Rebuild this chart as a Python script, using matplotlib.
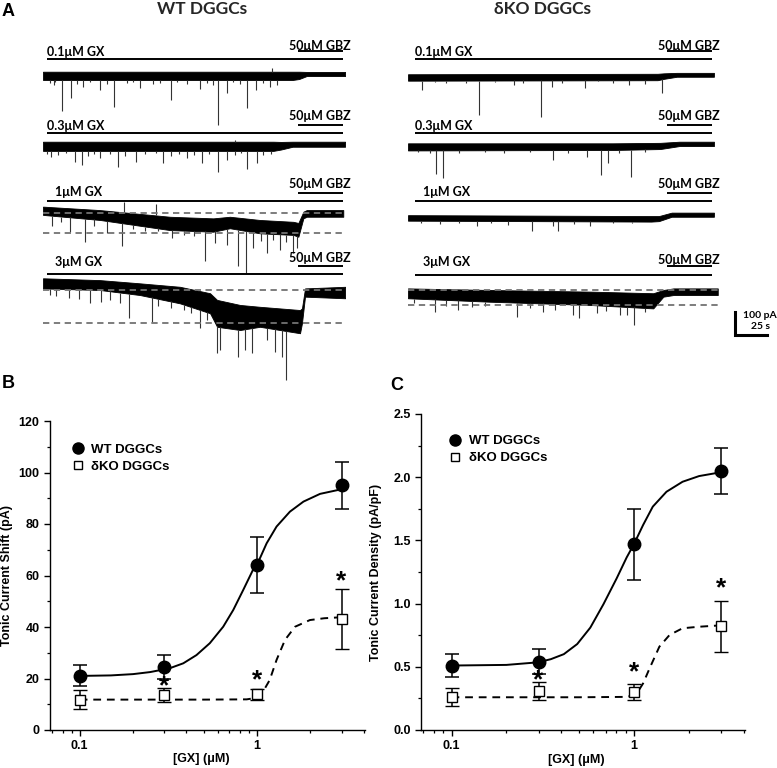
import numpy as np
import matplotlib.pyplot as plt
from matplotlib.lines import Line2D
from matplotlib.transforms import offset_copy

# ---------------- dose-response data (panels B, C) ----------------
conc = [0.1, 0.3, 1, 3]

wt_shift = [21.1, 24.6, 64.0, 95.0]
wt_shift_err = [4.2, 4.6, 10.8, 9.2]
ko_shift = [11.8, 13.6, 13.8, 43.2]
ko_shift_err = [3.6, 2.9, 2.3, 11.7]

wt_dens = [0.51, 0.54, 1.47, 2.05]
wt_dens_err = [0.09, 0.10, 0.28, 0.18]
ko_dens = [0.26, 0.31, 0.30, 0.82]
ko_dens_err = [0.07, 0.07, 0.06, 0.20]

# fitted curves
wt_shift_fit_x = [0.1, 0.15, 0.2, 0.25, 0.3225, 0.384, 0.456, 0.542, 0.645, 0.735, 0.837, 0.953, 1.0,
                  1.134, 1.29, 1.535, 1.83, 2.27, 3.0]
wt_shift_fit_y = [21.0, 21.2, 21.7, 22.5, 24.0, 25.9, 29.1, 33.7, 40.1, 46.6, 54.4, 62.4, 64.1,
                  72.5, 79.0, 84.8, 88.7, 91.7, 93.5]
ko_shift_fit_x = [0.1, 0.5, 0.875, 1.0, 1.08, 1.18, 1.29, 1.44, 1.64, 1.99, 2.4, 3.0]
ko_shift_fit_y = [11.8, 11.8, 11.9, 12.5, 14.8, 19.4, 27.2, 35.0, 40.1, 42.7, 43.4, 43.8]
wt_dens_fit_x = [0.1, 0.2, 0.296, 0.35, 0.413, 0.489, 0.577, 0.681, 0.805, 0.913, 1.0, 1.124, 1.27,
                 1.51, 1.85, 2.28, 3.0]
wt_dens_fit_y = [0.51, 0.515, 0.535, 0.56, 0.60, 0.68, 0.81, 0.995, 1.20, 1.365, 1.469, 1.622, 1.767,
                 1.885, 1.964, 2.009, 2.039]
ko_dens_fit_x = [0.1, 0.5, 0.913, 1.0, 1.06, 1.124, 1.22, 1.38, 1.57, 1.85, 2.28, 3.0]
ko_dens_fit_y = [0.259, 0.259, 0.262, 0.275, 0.31, 0.369, 0.488, 0.659, 0.752, 0.805, 0.817, 0.828]

star_x = [0.3, 1, 3]
shift_star_y = [18.8, 21.4, 59.8]
dens_star_y = [0.435, 0.496, 1.16]

# ---------------- traces (panel A): time in s, current in pA ----------------
# noise band envelope + spontaneous events
wt01_t = [0, 195, 200, 206, 236]
wt01_hi = [10, 10, 10, 9, 9]
wt01_lo = [-26, -26, -22, -9, -9]
wt01_spk_t = [8.6, 14.8, 21.9, 31.3, 44.5, 55.5, 75.8, 100, 122.7, 136.7, 143.8, 159.4, 166.4, 177.3, 182.8,
              5.5, 9.4, 26.3, 36.7, 49.7, 65.4, 70.6, 86.2, 91.4, 104.4, 112.3, 127.9, 133, 148.7, 153.9, 172.1]
wt01_spk_i = [-48, -161, -104, -57, -70, -143, -61, -113, -65, -222, -83, -148, -70, -57, -48,
              -38, -35, -42, -36, -44, -40, -35, -45, -38, -35, -42, -40, -48, -36, -44, -40]
wt01_up_t = [178.9]
wt01_up_i = [26]

wt03_t = [0, 180, 186, 195, 236]
wt03_hi = [10, 10, 9, 10, 10]
wt03_lo = [-30, -30, -24, -12, -12]
wt03_spk_t = [136.7, 159.4, 58.6, 30.5, 6.3, 25, 72.7, 93.8, 124.2, 167.2, 143.8, 112.5, 44.5,
              3, 12, 18, 35, 40, 52, 64, 80, 88, 100, 106, 118, 130, 150, 155, 172, 178]
wt03_spk_i = [-122, -109, -100, -91, -57, -78, -78, -83, -83, -83, -70, -61, -61,
              -42, -48, -40, -50, -45, -42, -52, -45, -40, -50, -44, -48, -42, -46, -40, -48, -42]
wt03_up_t = [150]
wt03_up_i = [18]

wt1_t = [0, 44.5, 99.2, 133, 146, 169.5, 195.6, 199.5, 203.4, 206, 234.6]
wt1_hi = [29, 14, -15, -22, -15, -29, -37, -42, 7, 14, 14]
wt1_lo = [-7, -29, -73, -80, -65, -87, -94, -102, -22, -15, -15]
wt1_spk_t = [7, 21, 32.8, 50, 61.7, 100.8, 126.6, 134.4, 143.8, 152.3, 158.6, 164, 175, 185, 195.3, 198.4,
             14, 40, 70, 80, 90, 110, 118, 170, 180, 190]
wt1_spk_i = [-55, -81, -123, -86, -142, -107, -207, -129, -138, -228, -260, -151, -173, -160, -173, -151,
             -40, -55, -70, -75, -78, -95, -100, -120, -115, -125]
wt1_up_t = [63.3, 88.3]
wt1_up_i = [50, 40]

wt3_t = [0, 44.5, 75.8, 107, 130.5, 136, 154, 169.5, 200.8, 202.3, 204.7, 236]
wt3_hi = [51, 43, 29, 14, -14, -43, -65, -73, -87, -80, 7, 14]
wt3_lo = [7, 0, -22, -58, -101, -160, -174, -160, -188, -145, -29, -36]
wt3_spk_t = [36.7, 67.4, 84.9, 122.7, 135.7, 138.3, 152.6, 157.8, 163, 174.8, 181.3, 186.5, 189.8,
             5.5, 10, 20, 28, 45, 52, 60, 90, 100, 110, 116, 128]
wt3_spk_i = [-58, -123, -138, -167, -275, -261, -290, -261, -275, -217, -268, -290, -391,
             -22, -25, -35, -40, -50, -45, -55, -70, -80, -85, -100, -130]

ko01_t = [0, 195, 200, 210, 239]
ko01_hi = [2, 4, 6, 8, 8]
ko01_lo = [-26, -24, -18, -9, -9]
ko01_spk_t = [11.2, 21.1, 55.7, 82.8, 103.7, 112.3, 138.3, 148.7, 172.9, 198.2, 30, 45, 68, 90, 120, 160, 185]
ko01_spk_i = [-65, -33, -174, -43, -184, -53, -58, -29, -43, -80, -35, -38, -33, -36, -35, -38, -40]

ko03_t = [0, 160, 197, 212, 239]
ko03_hi = [3, 3, 5, 10, 10]
ko03_lo = [-28, -26, -22, -9, -9]
ko03_spk_t = [17.2, 21.6, 27.6, 113.5, 139.6, 150.8, 156, 174, 8, 40, 60, 75, 95, 125, 165, 185]
ko03_spk_i = [-41, -130, -149, -69, -57, -134, -83, -144, -35, -38, -35, -40, -35, -38, -40, -35]

ko1_t = [0, 100, 190, 196, 206, 239]
ko1_hi = [-2, -4, -6, -6, 9, 9]
ko1_lo = [-26, -28, -30, -28, -9, -9]
ko1_spk_t = [54.2, 78.4, 96.6, 113.5, 117.4, 142.2, 10, 25, 40, 65, 130, 160, 175]
ko1_spk_i = [-51, -43, -73, -51, -73, -51, -38, -40, -36, -38, -40, -36, -38]

ko3_t = [0, 64, 142, 191.6, 199.5, 207.3, 242]
ko3_hi = [7, 0, -7, -14, 0, 7, 7]
ko3_lo = [-36, -51, -65, -80, -29, -22, -22]
ko3_spk_t = [21.1, 39.3, 84.9, 105.7, 129.1, 133.8, 147.4, 165.6, 170.9, 176.8, 5, 30, 50, 60, 95, 115, 155, 185]
ko3_spk_i = [-94, -87, -116, -94, -109, -123, -101, -109, -109, -152, -55, -70, -75, -70, -80, -85, -90, -95]

# dashed reference levels (pA)
wt1_levels = [0, -87]
wt3_levels = [0, -145]
ko3_levels = [0, -65]

# ---------------- figure ----------------
SANS = ['Liberation Sans', 'DejaVu Sans']
CAL = ['Lato', 'DejaVu Sans']
plt.rcParams['font.family'] = SANS

W, H = 777, 768
fig = plt.figure(figsize=(W / 100, H / 100), dpi=100)

PX_PER_S = 1.28
PX_PER_PA = 0.23
T_MAX = 245


def fx(px):
    return px / W


def fy(py):
    return 1 - py / H


def hbar(x0, x1, y, lw=1.4):
    fig.add_artist(Line2D([fx(x0), fx(x1)], [fy(y), fy(y)], transform=fig.transFigure,
                          color='k', lw=lw, solid_capstyle='butt'))


def trace_axes(x0, yg, up=60, down=100):
    ax = fig.add_axes([fx(x0), fy(yg + down), T_MAX * PX_PER_S / W, (up + down) / H])
    ax.set_xlim(0, T_MAX)
    ax.set_ylim(-down / PX_PER_PA, up / PX_PER_PA)
    ax.axis('off')
    ax.patch.set_visible(False)
    return ax


def draw_trace(ax, t, hi, lo, spk_t, spk_i, up_t=(), up_i=(), levels=None, lev_end=234):
    ax.fill_between(t, lo, hi, color='black', lw=0.6)
    base = np.interp(spk_t, t, lo)
    ax.vlines(spk_t, spk_i, base, color='0.2', lw=0.8)
    if len(up_t):
        ax.vlines(up_t, np.interp(up_t, t, hi), up_i, color='0.2', lw=0.8)
    if levels is not None:
        for lev in levels:
            ax.plot([0, lev_end], [lev, lev], color='0.45', lw=1.3, ls=(0, (3.5, 2.5)), zorder=3)


# WT column
a = trace_axes(43, 74)
draw_trace(a, wt01_t, wt01_hi, wt01_lo, wt01_spk_t, wt01_spk_i, wt01_up_t, wt01_up_i)
a = trace_axes(43, 144)
draw_trace(a, wt03_t, wt03_hi, wt03_lo, wt03_spk_t, wt03_spk_i, wt03_up_t, wt03_up_i)
a = trace_axes(43, 213.3)
draw_trace(a, wt1_t, wt1_hi, wt1_lo, wt1_spk_t, wt1_spk_i, wt1_up_t, wt1_up_i, wt1_levels, 234)
a = trace_axes(43, 290)
draw_trace(a, wt3_t, wt3_hi, wt3_lo, wt3_spk_t, wt3_spk_i, levels=wt3_levels, lev_end=234)

# KO column
a = trace_axes(408, 74.7)
draw_trace(a, ko01_t, ko01_hi, ko01_lo, ko01_spk_t, ko01_spk_i)
a = trace_axes(408, 144)
draw_trace(a, ko03_t, ko03_hi, ko03_lo, ko03_spk_t, ko03_spk_i)
a = trace_axes(408, 214.7)
draw_trace(a, ko1_t, ko1_hi, ko1_lo, ko1_spk_t, ko1_spk_i)
a = trace_axes(408, 290)
draw_trace(a, ko3_t, ko3_hi, ko3_lo, ko3_spk_t, ko3_spk_i, levels=ko3_levels, lev_end=242)
# scale bar 100 pA / 25 s
a.plot([255.5, 255.5, 280.5], [-95.7, -195.7, -195.7], color='k', lw=2.2, clip_on=False,
       solid_joinstyle='miter')
a.text(262, -110, '100 pA', fontsize=7.5, fontweight='bold', family=CAL, va='center', ha='left')
a.text(268, -160, '25 s', fontsize=7.5, fontweight='bold', family=CAL, va='center', ha='left')

# drug application bars and labels
gx_labels = ['0.1\u03bcM GX', '0.3\u03bcM GX', '1\u03bcM GX', '3\u03bcM GX']
bar_y_wt = [59, 133, 201, 274]
bar_y_ko = [59, 133, 201, 275]
gbz_y = [51, 125, 193, 266]
gx_text_y = [52, 126, 192.5, 262.5]
gbz_text_y = [46, 116, 184, 258]
gx_text_x_wt = [47, 47, 55, 55]
gx_text_x_ko = [415, 415, 423, 423]
for k in range(4):
    hbar(47, 343, bar_y_wt[k])
    hbar(298, 343, gbz_y[k])
    fig.text(fx(gx_text_x_wt[k]), fy(gx_text_y[k]), gx_labels[k], family=CAL, fontsize=9,
             fontweight='bold', va='center', ha='left')
    fig.text(fx(289), fy(gbz_text_y[k]), '50\u03bcM GBZ', family=CAL, fontsize=9,
             fontweight='bold', va='center', ha='left')
    hbar(415, 712, bar_y_ko[k])
    hbar(667, 712, gbz_y[k])
    fig.text(fx(gx_text_x_ko[k]), fy(gx_text_y[k]), gx_labels[k], family=CAL, fontsize=9,
             fontweight='bold', va='center', ha='left')
    fig.text(fx(658), fy(gbz_text_y[k] + (2 if k == 3 else 0)), '50\u03bcM GBZ', family=CAL, fontsize=9,
             fontweight='bold', va='center', ha='left')

fig.text(fx(202), fy(9), 'WT DGGCs', family=CAL, fontsize=12.5, fontweight='bold', ha='center', va='center',
         color='0.15')
fig.text(fx(543), fy(9), '\u03b4KO DGGCs', family=CAL, fontsize=12.5, fontweight='bold', ha='center',
         va='center', color='0.15')

fig.text(fx(2), fy(11), 'A', fontsize=13, fontweight='bold', va='center', ha='left')
fig.text(fx(2), fy(383), 'B', fontsize=13, fontweight='bold', va='center', ha='left')
fig.text(fx(390), fy(385), 'C', fontsize=13, fontweight='bold', va='center', ha='left')


# ---------------- panels B and C ----------------
def dose_axes(rect, wt, wt_err, ko, ko_err, wfx, wfy, kfx, kfy, star_y, ylim, yticks, ylabel, yfmt,
              ylab_x, leg_anchor):
    ax = fig.add_axes(rect)
    ax.set_xscale('log')
    ax.plot(wfx, wfy, color='k', lw=1.4, zorder=2)
    ax.plot(kfx, kfy, color='k', lw=1.4, ls=(0, (4, 3)), zorder=2)
    ax.errorbar(conc, wt, yerr=wt_err, fmt='o', color='k', ms=9, capsize=5, elinewidth=1.1,
                capthick=1.1, zorder=3)
    ax.errorbar(conc, ko, yerr=ko_err, fmt='s', color='k', mfc='white', mec='k', ms=6.5, mew=1.0,
                capsize=5, elinewidth=1.1, capthick=1.1, zorder=4)
    star_tr = offset_copy(ax.transData, fig=fig, y=-5, units='dots')
    for x, y in zip(star_x, star_y):
        ax.text(x, y, '*', ha='center', va='center', fontsize=19, fontweight='bold',
                transform=star_tr, zorder=5)
    ax.set_xlim(0.068, 4.07)
    ax.set_ylim(*ylim)
    ax.set_yticks(yticks)
    ax.set_yticklabels([yfmt.format(v) for v in yticks])
    ax.yaxis.set_minor_locator(plt.MultipleLocator((yticks[1] - yticks[0]) / 2))
    ax.set_xticks([0.1, 1])
    ax.set_xticklabels(['0.1', '1'])
    for s in ['top', 'right']:
        ax.spines[s].set_visible(False)
    for s in ['left', 'bottom']:
        ax.spines[s].set_linewidth(1.0)
    ax.tick_params(which='major', direction='out', length=4, width=1.0, labelsize=9)
    ax.tick_params(which='minor', direction='out', length=2.2, width=0.9)
    for lab in ax.get_xticklabels() + ax.get_yticklabels():
        lab.set_fontweight('bold')
    ax.set_xlabel('[GX] (\u03bcM)', fontsize=9, fontweight='bold')
    ax.set_ylabel(ylabel, fontsize=9, fontweight='bold')
    ax.xaxis.set_label_coords(0.48, -0.075)
    ax.yaxis.set_label_coords(ylab_x, 0.5)
    handles = [Line2D([], [], marker='o', color='k', ls='none', ms=8),
               Line2D([], [], marker='s', mfc='white', mec='k', color='k', ls='none', ms=6, mew=1.0)]
    ax.legend(handles, ['WT DGGCs', '\u03b4KO DGGCs'], loc='upper left', bbox_to_anchor=leg_anchor,
              frameon=False, handletextpad=0.4, labelspacing=0.35, handlelength=1.2,
              prop={'weight': 'bold', 'size': 9.5})
    return ax


dose_axes([fx(50), fy(730), 315 / W, 309 / H], wt_shift, wt_shift_err, ko_shift, ko_shift_err,
          wt_shift_fit_x, wt_shift_fit_y, ko_shift_fit_x, ko_shift_fit_y, shift_star_y,
          (0, 120), [0, 20, 40, 60, 80, 100, 120], 'Tonic Current Shift (pA)', '{:.0f}', -0.117,
          (0.026, 0.965))
dose_axes([fx(421), fy(730), 324 / W, 316 / H], wt_dens, wt_dens_err, ko_dens, ko_dens_err,
          wt_dens_fit_x, wt_dens_fit_y, ko_dens_fit_x, ko_dens_fit_y, dens_star_y,
          (0, 2.5), [0, 0.5, 1.0, 1.5, 2.0, 2.5], 'Tonic Current Density (pA/pF)', '{:.1f}', -0.12,
          (0.045, 0.971))

fig.savefig('out.png', dpi=100)
